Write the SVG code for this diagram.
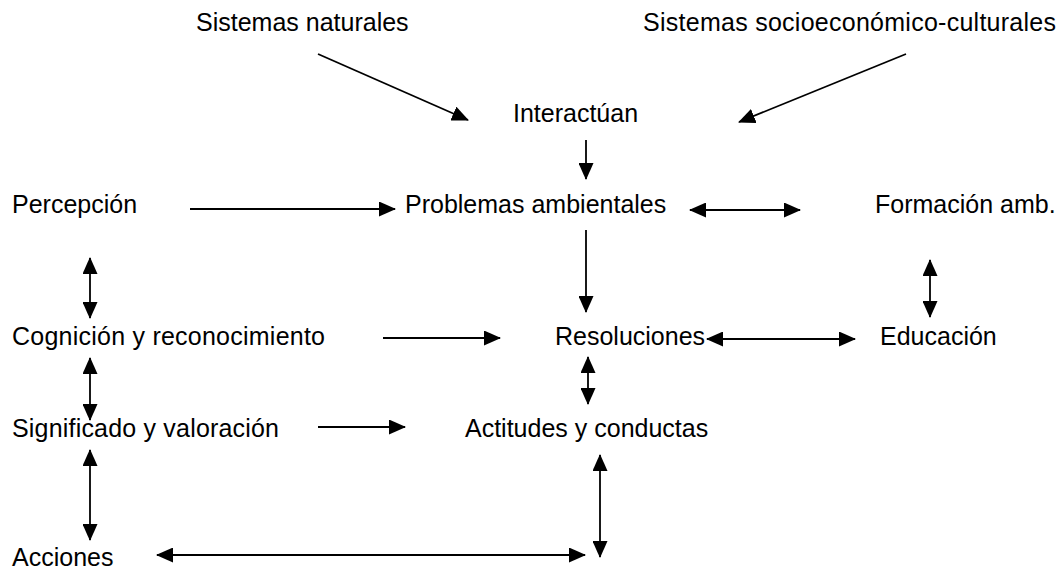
<svg xmlns="http://www.w3.org/2000/svg" width="1061" height="571" viewBox="0 0 1061 571">
<style>
text{font-family:"Liberation Sans",Arial,sans-serif;font-size:25px;fill:#000}
.c line{stroke:#000;stroke-width:1.8;fill:none}
</style>
<defs>
<marker id="ah" markerUnits="userSpaceOnUse" markerWidth="17" markerHeight="15" refX="16" refY="7.5" orient="auto-start-reverse" viewBox="0 0 17 15">
<path d="M0,0 L17,7.5 L0,15 z" fill="#000"/>
</marker>
</defs>
<rect width="1061" height="571" fill="#fff"/>
<g id="n-nat"><text x="196" y="31">Sistemas naturales</text></g>
<g id="n-soc"><text x="643" y="31" textLength="413">Sistemas socioeconómico-culturales</text></g>
<g id="n-int"><text x="513" y="122">Interactúan</text></g>
<g id="n-per"><text x="12" y="213">Percepción</text></g>
<g id="n-pro"><text x="405" y="213">Problemas ambientales</text></g>
<g id="n-for"><text x="875" y="213">Formación amb.</text></g>
<g id="n-cog"><text x="12" y="345" textLength="313">Cognición y reconocimiento</text></g>
<g id="n-res"><text x="555" y="345">Resoluciones</text></g>
<g id="n-edu"><text x="880" y="345">Educación</text></g>
<g id="n-sig"><text x="12" y="437" textLength="267">Significado y valoración</text></g>
<g id="n-act"><text x="465" y="437">Actitudes y conductas</text></g>
<g id="n-acc"><text x="12" y="566">Acciones</text></g>
<g id="connectors" class="c">
<line x1="318" y1="54" x2="468" y2="120" marker-end="url(#ah)"/>
<line x1="906" y1="54" x2="739" y2="122" marker-end="url(#ah)"/>
<line x1="586" y1="140" x2="586" y2="179" marker-end="url(#ah)"/>
<line x1="190" y1="209" x2="395" y2="209" marker-end="url(#ah)"/>
<line x1="690" y1="210" x2="800" y2="210" marker-start="url(#ah)" marker-end="url(#ah)"/>
<line x1="90" y1="258" x2="90" y2="318" marker-start="url(#ah)" marker-end="url(#ah)"/>
<line x1="586" y1="230" x2="586" y2="312" marker-end="url(#ah)"/>
<line x1="930" y1="260" x2="930" y2="317" marker-start="url(#ah)" marker-end="url(#ah)"/>
<line x1="383" y1="338" x2="500" y2="338" marker-end="url(#ah)"/>
<line x1="707" y1="339" x2="855" y2="339" marker-start="url(#ah)" marker-end="url(#ah)"/>
<line x1="90" y1="358" x2="90" y2="420" marker-start="url(#ah)" marker-end="url(#ah)"/>
<line x1="588" y1="357" x2="588" y2="404" marker-start="url(#ah)" marker-end="url(#ah)"/>
<line x1="318" y1="427" x2="405" y2="427" marker-end="url(#ah)"/>
<line x1="90" y1="450" x2="90" y2="540" marker-start="url(#ah)" marker-end="url(#ah)"/>
<line x1="600" y1="455" x2="600" y2="557" marker-start="url(#ah)" marker-end="url(#ah)"/>
<line x1="157" y1="555" x2="585" y2="555" marker-start="url(#ah)" marker-end="url(#ah)"/>
</g>
</svg>
